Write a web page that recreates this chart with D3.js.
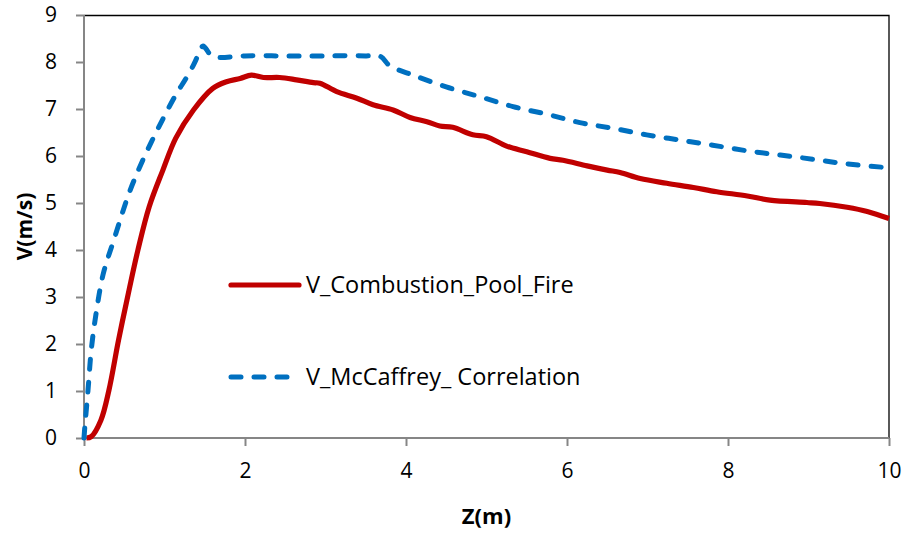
<!DOCTYPE html>
<html>
<head>
<meta charset="utf-8">
<script src="https://cdn.jsdelivr.net/npm/d3@7"></script>
<style>
  body { margin: 0; background: #fff; }
  text { font-family: "Open Sans", Lato, sans-serif; fill: #000; }
</style>
</head>
<body>
<script>
//series values
var combZ = [0.03, 0.09, 0.21, 0.31, 0.43, 0.56, 0.67, 0.81, 0.98, 1.14, 1.36, 1.6, 1.77, 1.94, 2.08, 2.23, 2.43, 2.64, 2.85, 2.93, 3.14, 3.39, 3.59, 3.84, 4.05, 4.26, 4.42, 4.58, 4.83, 5.0, 5.25, 5.5, 5.79, 5.95, 6.25, 6.5, 6.66, 6.91, 7.24, 7.57, 7.86, 8.24, 8.52, 8.98, 9.14, 9.48, 9.73, 10.0];
var combV = [0, 0.03, 0.38, 1.02, 2.09, 3.15, 4.0, 4.92, 5.7, 6.38, 6.98, 7.44, 7.58, 7.65, 7.72, 7.67, 7.67, 7.62, 7.56, 7.55, 7.37, 7.23, 7.09, 6.98, 6.82, 6.73, 6.64, 6.61, 6.45, 6.41, 6.21, 6.09, 5.95, 5.91, 5.79, 5.7, 5.65, 5.52, 5.42, 5.33, 5.24, 5.15, 5.06, 5.01, 4.99, 4.91, 4.82, 4.67];

var mccZ = [0, 0.01, 0.05, 0.09, 0.15, 0.24, 0.37, 0.56, 0.73, 0.93, 1.14, 1.27, 1.37, 1.44, 1.48, 1.6, 2.0, 2.5, 3.0, 3.5, 3.68, 3.8, 4.09, 4.5, 4.92, 5.33, 5.75, 6.16, 6.57, 6.99, 7.4, 7.81, 8.24, 8.65, 9.06, 9.48, 10.0];
var mccV = [0, 0.23, 1.02, 1.87, 2.65, 3.5, 4.21, 5.21, 5.91, 6.62, 7.3, 7.66, 7.97, 8.24, 8.34, 8.12, 8.13, 8.13, 8.13, 8.13, 8.12, 7.92, 7.72, 7.47, 7.26, 7.05, 6.89, 6.71, 6.59, 6.45, 6.34, 6.23, 6.11, 6.02, 5.93, 5.83, 5.75];

var xTicks = [0, 2, 4, 6, 8, 10];
var yTicks = [0, 1, 2, 3, 4, 5, 6, 7, 8, 9];
var seriesNames = ["V_Combustion_Pool_Fire", "V_McCaffrey_ Correlation"];

var width = 907, height = 534;
var margin = {top: 15, right: 18, bottom: 96, left: 84};
var innerW = width - margin.left - margin.right,
    innerH = height - margin.top - margin.bottom;

var svg = d3.select("body").append("svg")
    .attr("width", width)
    .attr("height", height);

var g = svg.append("g")
    .attr("transform", "translate(" + margin.left + "," + margin.top + ")");

var x = d3.scaleLinear().domain([0, 10]).range([0, innerW]);
var y = d3.scaleLinear().domain([0, 9]).range([innerH, 0]);

//plot frame: black top and right
g.append("path")
    .attr("d", "M0,0.5H" + innerW + "V" + innerH)
    .attr("fill", "none")
    .attr("stroke", "#000")
    .attr("stroke-width", 1.3);

//axes
var xAxis = g.append("g")
    .attr("transform", "translate(0," + innerH + ")")
    .call(d3.axisBottom(x).tickValues(xTicks).tickSize(8).tickPadding(17).tickFormat(d3.format("d")));

var yAxis = g.append("g")
    .call(d3.axisLeft(y).tickValues(yTicks).tickSize(8).tickPadding(19).tickFormat(d3.format("d")));

[xAxis, yAxis].forEach(function(ax){
    ax.selectAll("path, line").attr("stroke", "#868686").attr("stroke-width", 2);
    ax.select(".domain").attr("d", ax === xAxis ? "M0,0H" + innerW : "M0,0V" + innerH);
    ax.selectAll("text").style("font-size", "21px").style("font-family", "'Open Sans', Lato, sans-serif");
});

//lines
var line = d3.line()
    .x(function(d){ return x(d[0]); })
    .y(function(d){ return y(d[1]); })
    .curve(d3.curveCatmullRom.alpha(0.5));

var combData = combZ.map(function(z, i){ return [z, combV[i]]; });
var mccData = mccZ.map(function(z, i){ return [z, mccV[i]]; });

g.append("path")
    .datum(combData)
    .attr("d", line)
    .attr("fill", "none")
    .attr("stroke", "#C00000")
    .attr("stroke-width", 5.2)
    .attr("stroke-linejoin", "round");

g.append("path")
    .datum(mccData)
    .attr("d", line)
    .attr("fill", "none")
    .attr("stroke", "#0070C0")
    .attr("stroke-width", 5)
    .attr("stroke-dasharray", "10,13")
    .attr("stroke-linecap", "round")
    .attr("stroke-linejoin", "round");

//legend
var legend = svg.append("g");
legend.append("line")
    .attr("x1", 231).attr("x2", 299).attr("y1", 285).attr("y2", 285)
    .attr("stroke", "#C00000").attr("stroke-width", 5.2).attr("stroke-linecap", "round");
legend.append("line")
    .attr("x1", 231).attr("x2", 291).attr("y1", 377).attr("y2", 377)
    .attr("stroke", "#0070C0").attr("stroke-width", 5)
    .attr("stroke-dasharray", "10,13").attr("stroke-linecap", "round");
legend.selectAll("text.leg")
    .data(seriesNames)
    .enter().append("text")
    .attr("class", "leg")
    .attr("x", 306)
    .attr("y", function(d, i){ return i === 0 ? 285 : 377; })
    .attr("dy", "0.35em")
    .style("font-size", "23.5px")
    .text(function(d){ return d; });

//axis titles
svg.append("text")
    .attr("x", margin.left + innerW / 2)
    .attr("y", 524)
    .attr("text-anchor", "middle")
    .style("font-size", "22px")
    .style("font-weight", "bold")
    .text("Z(m)");

svg.append("text")
    .attr("transform", "translate(32," + (margin.top + innerH / 2) + ") rotate(-90)")
    .attr("text-anchor", "middle")
    .style("font-size", "21px")
    .style("font-weight", "bold")
    .text("V(m/s)");
</script>
</body>
</html>
